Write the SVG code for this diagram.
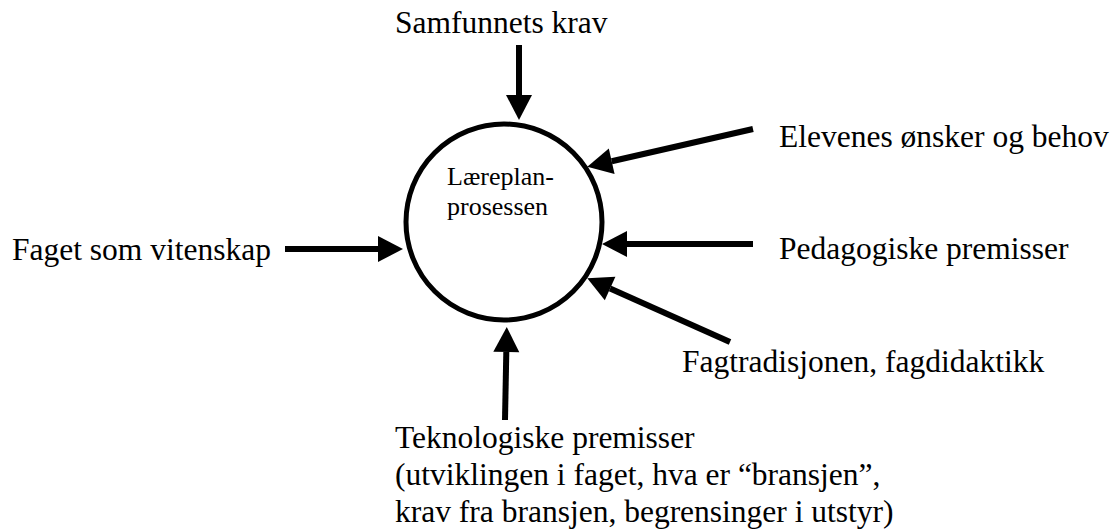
<svg xmlns="http://www.w3.org/2000/svg" width="1118" height="532" viewBox="0 0 1118 532">
  <style>
    .lbl { font-size: 31.5px; fill: #000; }
    .inner { font-size: 26px; fill: #000; }
    .arrow { stroke: #000; stroke-width: 6; fill: none; marker-end: url(#head); }
  </style>
  <defs>
    <marker id="head" markerUnits="userSpaceOnUse" markerWidth="26" markerHeight="28" refX="0" refY="13" orient="auto" overflow="visible">
      <path d="M0,0 L25,13 L0,26 z" fill="#000"/>
    </marker>
  </defs>
  <rect width="1118" height="532" fill="#fff"/>

  <g font-family="'Liberation Serif', 'DejaVu Serif', 'Times New Roman', serif">
    <!-- central process -->
    <g id="node-process">
      <circle cx="504" cy="222" r="98" fill="#fff" stroke="#000" stroke-width="5"/>
      <text class="inner" x="447" y="185">Læreplan-</text>
      <text class="inner" x="447" y="215">prosessen</text>
    </g>

    <!-- input labels -->
    <g id="node-samfunnet">
      <text class="lbl" x="395" y="33">Samfunnets krav</text>
    </g>
    <g id="node-elevene">
      <text class="lbl" x="779" y="147">Elevenes ønsker og behov</text>
    </g>
    <g id="node-pedagogikk">
      <text class="lbl" x="779" y="259">Pedagogiske premisser</text>
    </g>
    <g id="node-fagtradisjon">
      <text class="lbl" x="682" y="372">Fagtradisjonen, fagdidaktikk</text>
    </g>
    <g id="node-vitenskap">
      <text class="lbl" x="12" y="260">Faget som vitenskap</text>
    </g>
    <g id="node-teknologi">
      <text class="lbl" x="395" y="448">Teknologiske premisser</text>
      <text class="lbl" x="395" y="485">(utviklingen i faget, hva er “bransjen”,</text>
      <text class="lbl" x="395" y="522">krav fra bransjen, begrensinger i utstyr)</text>
    </g>
  </g>

  <!-- arrows into the process; each line stops where its head begins -->
  <g id="connectors">
    <line class="arrow" x1="519" y1="45" x2="519" y2="95"/>
    <line class="arrow" x1="753" y1="129" x2="611.7" y2="161.2"/>
    <line class="arrow" x1="753" y1="244" x2="627" y2="244"/>
    <line class="arrow" x1="730" y1="342" x2="610.1" y2="288.5"/>
    <line class="arrow" x1="285" y1="249" x2="378" y2="249"/>
    <line class="arrow" x1="505" y1="420" x2="506.3" y2="352"/>
  </g>
</svg>
